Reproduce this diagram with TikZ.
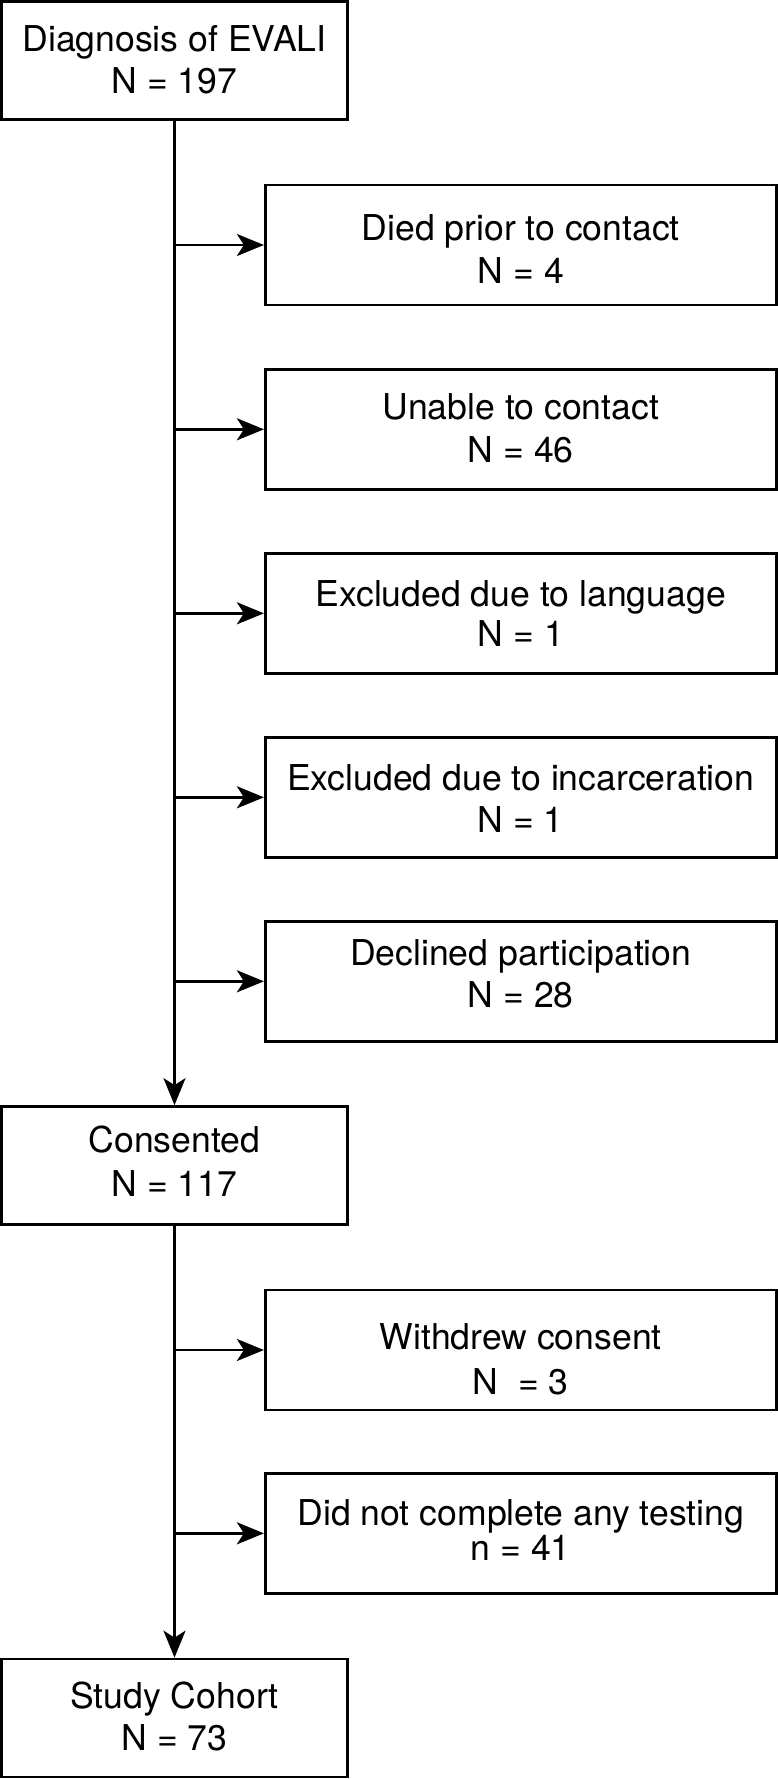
\documentclass[tikz,border=0pt]{standalone}
\usepackage{fontspec}
\setmainfont{TeX Gyre Heros}
\usetikzlibrary{arrows.meta}
\usetikzlibrary{positioning}
% two text lines: #2 = first baseline from box centre, #3 = baseline distance, [#1] = bottom strut
\newcommand{\twolines}[5][18]{\rule{0pt}{\dimexpr #3pt+#1pt+#2pt*2\relax}#4\\[\dimexpr #3pt-42.4pt\relax]#5\rule[-#1pt]{0pt}{0pt}}

\begin{document}
\begin{tikzpicture}[x=1pt,y=1pt,yscale=-1,xscale=1]
  \useasboundingbox (0,0) rectangle (778,1779);
  \tikzstyle{mainbox} = [draw,line width=2.7pt,minimum width=346pt,minimum height=118pt,inner sep=0pt,align=center,font=\fontsize{35.6}{42.4}\selectfont]
  \tikzstyle{sidebox} = [mainbox,minimum width=511pt,minimum height=120pt]
  \tikzstyle{arrow} = [line width=2.7pt,-{Stealth[length=27pt,width=22pt,inset=7pt]}]
  %Draw the main column
  \node[mainbox] (diag) at (174.5,60.5) {\twolines{-8.8}{42.3}{Diagnosis of EVALI}{N = 197}};
  \node[mainbox] (cons) at (174.5,1165.5) {\twolines{-12.7}{43.4}{Consented}{N = 117}};
  \node[mainbox] (cohort) at (174.5,1718) {\twolines{-9.7}{42.4}{Study Cohort}{N = 73}};
  %Draw the exclusion boxes
  \node[sidebox] (died) at (520.75,245) {\twolines{-4}{42.3}{Died prior to contact}{N = 4}};
  \node[sidebox] (unable) at (520.75,429.3) {\twolines{-10}{43.3}{Unable to contact}{N = 46}};
  \node[sidebox] (lang) at (520.75,613.3) {\twolines{-7.3}{40}{Excluded due to language}{N = 1}};
  \node[sidebox] (incarc) at (520.75,797.3) {\twolines{-7.3}{42.3}{Excluded due to incarceration}{N = 1}};
  \node[sidebox] (declined) at (520.75,981.3) {\twolines{-15.6}{41.7}{Declined participation}{N = 28}};
  \node[sidebox] (withdrew) at (520.75,1350) {\twolines[5]{-1}{45.5}{Withdrew consent}{N\ \ = 3}};
  \node[sidebox] (notest) at (520.75,1533.3) {\twolines{-8.3}{35}{Did not complete any testing}{n = 41}};
  % Draw the arrows
  \draw [arrow] (diag) -- (cons);
  \draw [arrow] (cons) -- (cohort);
  \foreach \b in {died,unable,lang,incarc,declined}
    \draw [arrow] (diag.south |- \b.west) -- (\b.west);
  \foreach \b in {withdrew,notest}
    \draw [arrow] (cons.south |- \b.west) -- (\b.west);
\end{tikzpicture}
\end{document}
